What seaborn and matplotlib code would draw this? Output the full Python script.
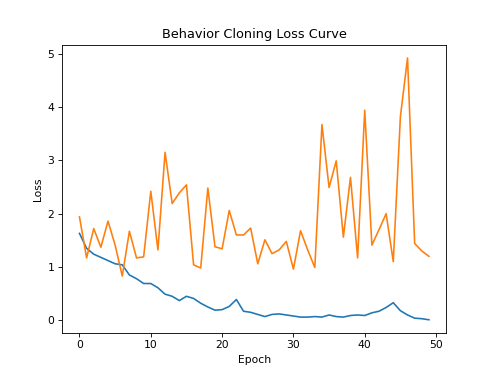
import numpy as np
import pandas as pd
import matplotlib
matplotlib.use("Agg")
import matplotlib.pyplot as plt
import seaborn as sns

# --- data ---
epochs = list(range(50))

train_loss = [1.63, 1.35, 1.24, 1.18, 1.12, 1.06, 1.04, 0.85, 0.78, 0.69,
              0.69, 0.61, 0.49, 0.45, 0.37, 0.45, 0.41, 0.32, 0.25, 0.19,
              0.20, 0.26, 0.39, 0.17, 0.15, 0.11, 0.07, 0.11, 0.12, 0.10,
              0.08, 0.06, 0.06, 0.07, 0.06, 0.10, 0.07, 0.06, 0.09, 0.10,
              0.09, 0.14, 0.17, 0.24, 0.33, 0.18, 0.10, 0.04, 0.03, 0.01]

val_loss = [1.94, 1.17, 1.72, 1.37, 1.86, 1.41, 0.83, 1.67, 1.17, 1.19,
            2.42, 1.32, 3.15, 2.19, 2.39, 2.54, 1.04, 0.98, 2.48, 1.38,
            1.34, 2.06, 1.60, 1.60, 1.73, 1.06, 1.51, 1.25, 1.32, 1.48,
            0.96, 1.68, 1.32, 0.99, 3.67, 2.49, 2.99, 1.56, 2.68, 1.17,
            3.94, 1.41, 1.70, 2.00, 1.10, 3.82, 4.92, 1.44, 1.30, 1.20]

df = pd.DataFrame({"epoch": epochs, "train": train_loss, "val": val_loss})

# --- plot ---
fig, ax = plt.subplots(figsize=(6.4, 4.826), dpi=77.5)
sns.lineplot(data=df, x="epoch", y="train", color="tab:blue", ax=ax, legend=False)
sns.lineplot(data=df, x="epoch", y="val", color="tab:orange", ax=ax, legend=False)

ax.set_title("Behavior Cloning Loss Curve")
ax.set_xlabel("Epoch")
ax.set_ylabel("Loss")

fig.savefig("out.png", dpi=77.5)
